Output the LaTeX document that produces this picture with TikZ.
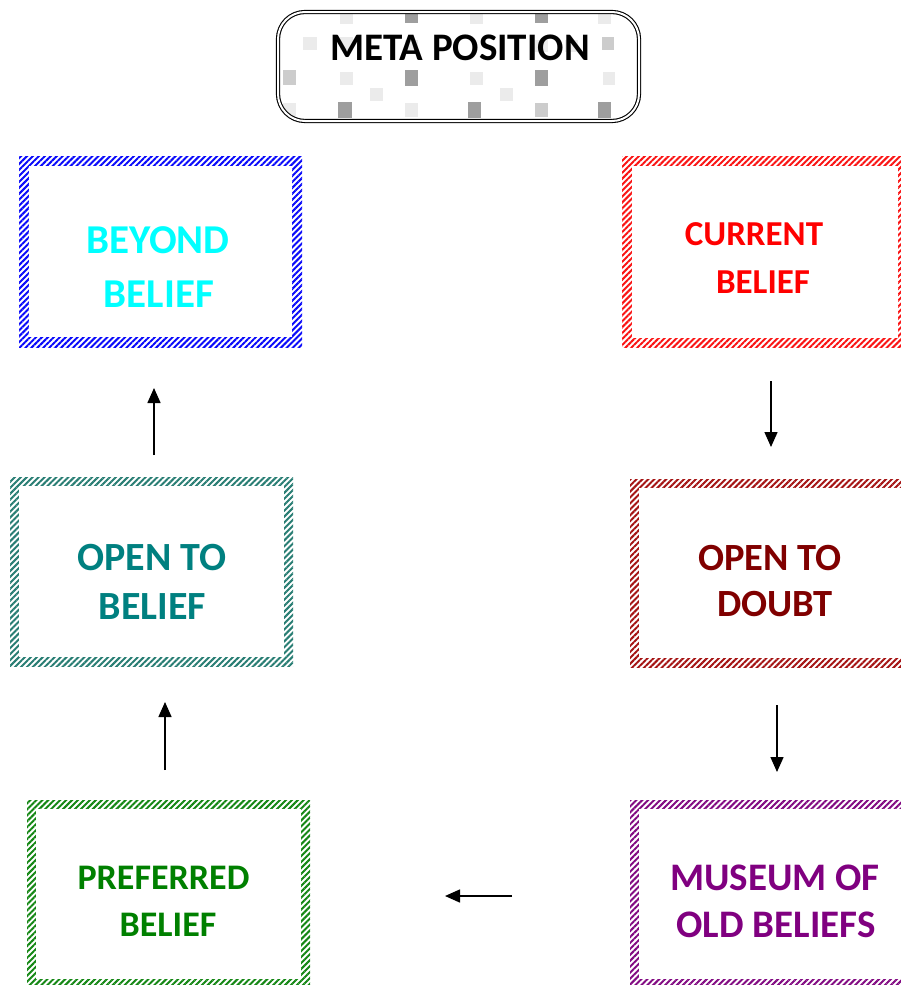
\documentclass[tikz,border=0pt]{standalone}
\usepackage{fontspec}
\setmainfont{Carlito}
\usetikzlibrary{patterns.meta,arrows.meta,calc}

% frame colours
\definecolor{fblue}{RGB}{10,10,250}
\definecolor{fred}{RGB}{250,20,20}
\definecolor{fteal}{RGB}{40,125,115}
\definecolor{fmaroon}{RGB}{165,20,20}
\definecolor{fgreen}{RGB}{20,135,20}
\definecolor{fpurple}{RGB}{130,10,130}
% label colours
\definecolor{tcyan}{RGB}{0,255,255}
\definecolor{tred}{RGB}{255,0,0}
\definecolor{tteal}{RGB}{0,128,128}
\definecolor{tmaroon}{RGB}{128,0,0}
\definecolor{tgreen}{RGB}{0,128,0}
\definecolor{tpurple}{RGB}{128,0,128}

\tikzset{
  % rectangle with a hatched band as its frame
  stagebox/.style 2 args={rectangle, draw=none, inner sep=0pt, outer sep=0pt,
    pattern={Lines[angle=45,distance=4.2pt,line width=2pt]}, pattern color=#1,
    path picture={\fill[white]
      ($(path picture bounding box.south west)+(#2,#2)$) rectangle
      ($(path picture bounding box.north east)-(#2,#2)$);}},
  fs/.style={font=\fontsize{#1}{#1}\selectfont\bfseries},
  lbl/.style={anchor=base, inner sep=0pt, outer sep=0pt},
  arr/.style={line width=1.5pt, -{Triangle[width=13pt,length=15pt]}},
  sqd/.style={fill=black!38},
  sqm/.style={fill=black!20},
  sql/.style={fill=black!8},
}

% grey chequer texture behind the title
\newcommand{\chequer}{%
  \fill[sql] (340,12) rectangle +(13,12);
  \fill[sqd] (405,10) rectangle +(13,13);
  \fill[sql] (470,12) rectangle +(13,12);
  \fill[sqd] (535,10) rectangle +(13,13);
  \fill[sql] (598,12) rectangle +(13,12);
  \fill[sql] (303,37) rectangle +(14,13);
  \fill[sql] (340,37) rectangle +(13,13);
  \fill[sql] (405,40) rectangle +(13,12);
  \fill[sql] (535,40) rectangle +(13,12);
  \fill[sqm] (602,37) rectangle +(12,13);
  \fill[sqm] (283,70) rectangle +(13,15);
  \fill[sql] (340,72) rectangle +(13,13);
  \fill[sqd] (405,70) rectangle +(13,16);
  \fill[sql] (470,72) rectangle +(13,13);
  \fill[sqd] (535,70) rectangle +(13,16);
  \fill[sql] (603,72) rectangle +(12,13);
  \fill[sql] (283,103) rectangle +(13,14);
  \fill[sqd] (338,102) rectangle +(14,16);
  \fill[sql] (405,103) rectangle +(13,14);
  \fill[sqd] (468,102) rectangle +(13,16);
  \fill[sqm] (535,103) rectangle +(13,14);
  \fill[sqd] (598,102) rectangle +(13,16);
  \fill[sql] (370,88) rectangle +(13,13);
  \fill[sql] (500,88) rectangle +(13,13);
  \fill[sql] (565,40) rectangle +(13,12);
}

\begin{document}
\begin{tikzpicture}[x=1pt,y=-1pt]
\useasboundingbox (0,0) rectangle (901,985);

% title box: texture clipped to the rounded outline, then the double frame
\begin{scope}
  \clip[rounded corners=27pt] (278,12) rectangle (639,121);
  \chequer
\end{scope}
\node (meta) [rectangle, rounded corners=27pt, minimum width=361pt, minimum height=109pt,
  inner sep=0pt, draw=black, line width=1.1pt, double=white, double distance=2pt] at (458.5,66.5) {};
\node (metat) [lbl, fs=39] at (460,60.3) {META POSITION};

% stage boxes
\node (beyond) [stagebox={fblue}{10pt}, minimum width=283pt, minimum height=191pt] at (160.5,251.5) {};
\node (current) [stagebox={fred}{9.5pt}, minimum width=285pt, minimum height=191pt] at (764.5,251.5) {};
\node (openb) [stagebox={fteal}{9pt}, minimum width=283pt, minimum height=189pt] at (151.5,571.5) {};
\node (opend) [stagebox={fmaroon}{9pt}, minimum width=284pt, minimum height=188pt] at (772,573) {};
\node (pref) [stagebox={fgreen}{9pt}, minimum width=283pt, minimum height=188pt] at (168.5,894) {};
\node (museum) [stagebox={fpurple}{9pt}, minimum width=284pt, minimum height=188pt] at (772,894) {};

% labels
\node (beyond1) [lbl, fs=41, text=tcyan] at (158,253.7) {BEYOND};
\node (beyond2) [lbl, fs=41, text=tcyan] at (159,307) {BELIEF};
\node (current1) [lbl, fs=35, text=tred] at (754,245) {CURRENT};
\node (current2) [lbl, fs=35, text=tred] at (763,293.5) {BELIEF};
\node (openb1) [lbl, fs=40, text=tteal] at (152,570) {OPEN TO};
\node (openb2) [lbl, fs=40, text=tteal] at (152.5,619.3) {BELIEF};
\node (opend1) [lbl, fs=38.5, text=tmaroon] at (770,570.2) {OPEN TO};
\node (opend2) [lbl, fs=38.5, text=tmaroon] at (775,616.9) {DOUBT};
\node (pref1) [lbl, fs=36, text=tgreen] at (163.5,889.4) {PREFERRED};
\node (pref2) [lbl, fs=36, text=tgreen] at (168,936.4) {BELIEF};
\node (museum1) [lbl, fs=39, text=tpurple] at (775,890.3) {MUSEUM OF};
\node (museum2) [lbl, fs=39, text=tpurple] at (776,937) {OLD BELIEFS};

% arrow end points
\coordinate (a1s) at (771,381);
\coordinate (a1e) at (771,447);
\coordinate (a2s) at (777,705);
\coordinate (a2e) at (777,772);
\coordinate (a3s) at (512,896);
\coordinate (a3e) at (445,896);
\coordinate (a4s) at (165,770);
\coordinate (a4e) at (165,702);
\coordinate (a5s) at (154,455);
\coordinate (a5e) at (154,388);

\draw[arr] (a1s) -- (a1e);
\draw[arr] (a2s) -- (a2e);
\draw[arr] (a3s) -- (a3e);
\draw[arr] (a4s) -- (a4e);
\draw[arr] (a5s) -- (a5e);
\end{tikzpicture}
\end{document}
